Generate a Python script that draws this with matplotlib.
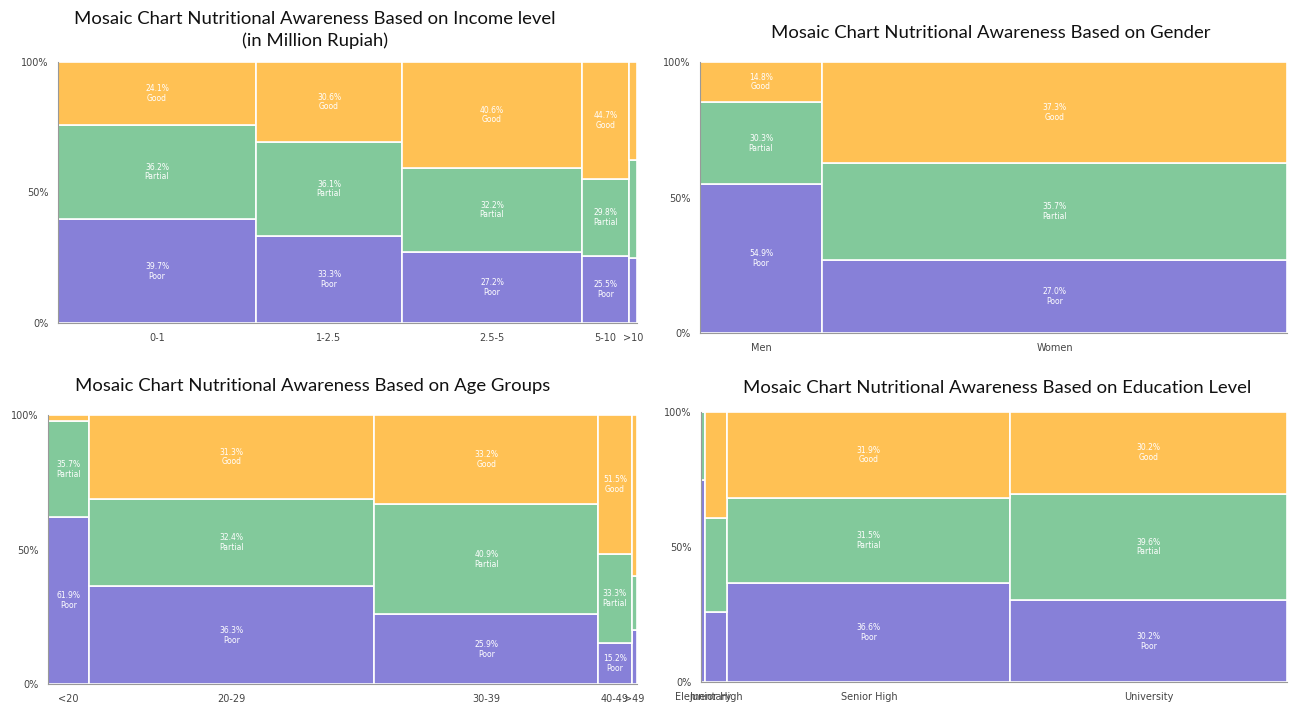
import matplotlib
matplotlib.use("Agg")
import matplotlib.pyplot as plt

# colours of the three awareness levels
POOR = "#8780d8"
PARTIAL = "#82c99b"
GOOD = "#ffc154"

# income level (million Rupiah)
income_cats = ["0-1", "1-2.5", "2.5-5", "5-10", ">10"]
income_share = [34.2, 25.2, 31.1, 8.1, 1.4]
income_poor = [39.7, 33.3, 27.2, 25.5, 25.0]
income_partial = [36.2, 36.1, 32.2, 29.8, 37.5]
income_good = [24.1, 30.6, 40.6, 44.7, 37.5]

# gender
gender_cats = ["Men", "Women"]
gender_share = [20.8, 79.2]
gender_poor = [54.9, 27.0]
gender_partial = [30.3, 35.7]
gender_good = [14.8, 37.3]

# age groups
age_cats = ["<20", "20-29", "30-39", "40-49", ">49"]
age_share = [7.0, 48.4, 38.0, 5.7, 0.9]
age_poor = [61.9, 36.3, 25.9, 15.2, 20.0]
age_partial = [35.7, 32.4, 40.9, 33.3, 20.0]
age_good = [2.4, 31.3, 33.2, 51.5, 60.0]

# education level
edu_cats = ["Elementary", "Junior High", "Senior High", "University"]
edu_share = [0.7, 3.8, 48.3, 47.2]
edu_poor = [75.0, 26.1, 36.6, 30.2]
edu_partial = [25.0, 34.8, 31.5, 39.6]
edu_good = [0.0, 39.1, 31.9, 30.2]

TITLE_FONT = ["Lato", "DejaVu Sans"]
W, H = 1294, 706


def mosaic(ax, cats, share, poor, partial, good):
    total = sum(share)
    widths = [s / total * 100 for s in share]
    lefts = [sum(widths[:i]) for i in range(len(widths))]
    bottom = [0] * len(cats)
    for vals, col, name in [(poor, POOR, "Poor"), (partial, PARTIAL, "Partial"), (good, GOOD, "Good")]:
        ax.bar(lefts, vals, width=widths, bottom=bottom, align="edge",
               color=col, edgecolor="white", linewidth=1.2)
        for l, w, b, v in zip(lefts, widths, bottom, vals):
            if w >= 5 and v >= 5:
                ax.text(l + w / 2, b + v / 2, "%.1f%%\n%s" % (v, name),
                        ha="center", va="center", color="white", fontsize=5.5,
                        linespacing=1.1)
        bottom = [b + v for b, v in zip(bottom, vals)]
    ax.set_xlim(0, 100)
    ax.set_ylim(0, 100)
    ax.set_xticks([l + w / 2 for l, w in zip(lefts, widths)])
    ax.set_xticklabels(cats)
    ax.set_yticks([0, 50, 100])
    ax.set_yticklabels(["0%", "50%", "100%"])
    ax.tick_params(length=0, labelsize=7, labelcolor="#444444", pad=7)
    for s in ["top", "right"]:
        ax.spines[s].set_visible(False)
    for s in ["left", "bottom"]:
        ax.spines[s].set_color("#999999")
        ax.spines[s].set_linewidth(0.8)


def title(x, y, text):
    fig.text(x / W, 1 - y / H, text, ha="center", va="center", fontsize=13.3,
             family=TITLE_FONT, color="#111111", linespacing=1.45)


fig = plt.figure(figsize=(W / 100, H / 100), dpi=100)


def box(l, r, t, b):
    return [l / W, (H - b) / H, (r - l) / W, (b - t) / H]


ax1 = fig.add_axes(box(58, 637, 62, 323))
ax2 = fig.add_axes(box(700, 1287, 62, 333))
ax3 = fig.add_axes(box(48, 637, 415, 684))
ax4 = fig.add_axes(box(701, 1287, 412, 682))

mosaic(ax1, income_cats, income_share, income_poor, income_partial, income_good)
mosaic(ax2, gender_cats, gender_share, gender_poor, gender_partial, gender_good)
mosaic(ax3, age_cats, age_share, age_poor, age_partial, age_good)
mosaic(ax4, edu_cats, edu_share, edu_poor, edu_partial, edu_good)

title(315, 30, "Mosaic Chart Nutritional Awareness Based on Income level\n(in Million Rupiah)")
title(991, 33, "Mosaic Chart Nutritional Awareness Based on Gender")
title(313, 386, "Mosaic Chart Nutritional Awareness Based on Age Groups")
title(997, 388, "Mosaic Chart Nutritional Awareness Based on Education Level")

fig.savefig("out.png", dpi=100)
